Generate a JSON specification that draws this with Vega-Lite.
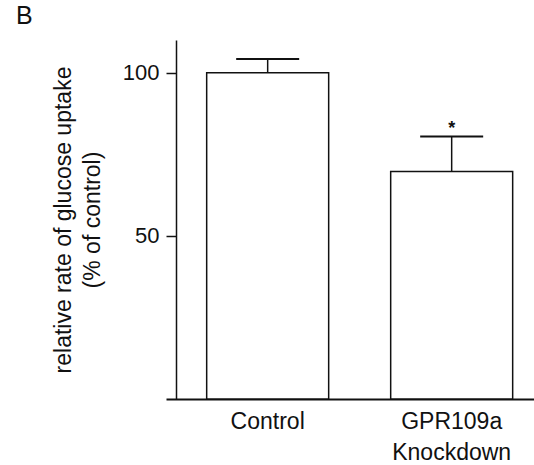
{
  "$schema": "https://vega.github.io/schema/vega-lite/v6.json",
  "width": 368,
  "height": 359,
  "autosize": "none",
  "padding": {"left": 166, "top": 40, "right": 0, "bottom": 66},
  "background": "white",
  "config": {"view": {"stroke": null}, "font": "Liberation Sans"},
  "title": {"text": "B", "anchor": "start", "frame": "group", "dx": -150, "offset": 11, "fontSize": 25, "fontWeight": "normal", "font": "Liberation Sans", "color": "#111"},
  "data": {"values": [
    {"group": "Control", "value": 100, "upper": 104.2, "sig": ""},
    {"group": "GPR109a Knockdown", "value": 69.7, "upper": 80.4, "sig": "*"}
  ]},
  "encoding": {
    "x": {
      "field": "group", "type": "nominal", "sort": null,
      "scale": {"paddingInner": 0.337, "paddingOuter": 0.1685, "align": 0.656},
      "axis": {
        "title": null, "labelAngle": 0, "ticks": false,
        "domainColor": "#111", "domainWidth": 2,
        "labelFontSize": 23, "labelColor": "#111", "labelPadding": 11, "labelLineHeight": 31,
        "labelFont": "Liberation Sans",
        "labelExpr": "datum.value == 'GPR109a Knockdown' ? ['GPR109a', 'Knockdown'] : datum.label"
      }
    }
  },
  "layer": [
    {
      "mark": {"type": "bar", "fill": "white", "stroke": "#111", "strokeWidth": 1.5},
      "encoding": {
        "y": {
          "field": "value", "type": "quantitative",
          "scale": {"domain": [0, 110], "nice": false},
          "axis": {
            "values": [50, 100], "offset": -10, "grid": false,
            "tickSize": 10, "tickWidth": 1.5, "tickColor": "#111",
            "domainColor": "#111", "domainWidth": 1.5,
            "labelFontSize": 22, "labelColor": "#111", "labelPadding": 7, "labelFont": "Liberation Sans",
            "title": ["relative rate of glucose uptake", "(% of control)"],
            "titleFontSize": 23, "titleFontWeight": "normal", "titleColor": "#111", "titleFont": "Liberation Sans",
            "titleLineHeight": 29, "titlePadding": 18
          }
        }
      }
    },
    {
      "mark": {"type": "rule", "color": "#111", "strokeWidth": 1.5},
      "encoding": {
        "y": {"field": "value", "type": "quantitative"},
        "y2": {"field": "upper"}
      }
    },
    {
      "mark": {"type": "tick", "size": 63, "thickness": 2, "color": "#111", "opacity": 1},
      "encoding": {
        "y": {"field": "upper", "type": "quantitative"}
      }
    },
    {
      "mark": {"type": "text", "fontSize": 18, "fontWeight": "bold", "baseline": "alphabetic", "dy": -3, "color": "#111", "font": "Liberation Sans"},
      "encoding": {
        "y": {"field": "upper", "type": "quantitative"},
        "text": {"field": "sig"}
      }
    }
  ]
}
